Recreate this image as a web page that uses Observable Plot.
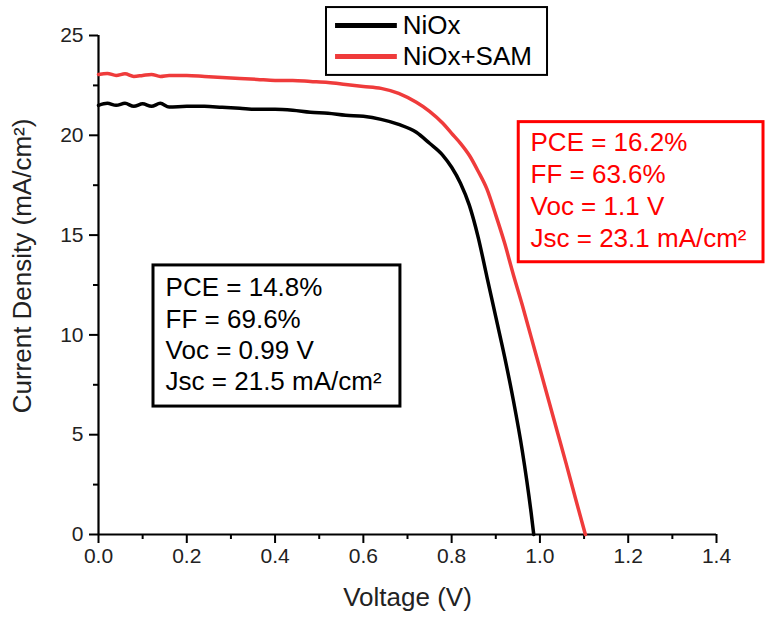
<!DOCTYPE html>
<html><head><meta charset="utf-8">
<script src="https://cdn.jsdelivr.net/npm/d3@7"></script>
<script src="https://cdn.jsdelivr.net/npm/@observablehq/plot@0.6"></script>
<style>body{margin:0;background:#fff}svg{font-family:"Liberation Sans",Arial,sans-serif}</style>
</head><body><div id="chart"></div>
<script>
// ---- data ----
const voltageNiOx = [0, 0.02, 0.04, 0.06, 0.08, 0.10, 0.12, 0.14, 0.16, 0.20, 0.24, 0.28, 0.32, 0.36, 0.40, 0.44, 0.48, 0.52, 0.56, 0.60, 0.64, 0.68, 0.72, 0.75, 0.78, 0.80, 0.82, 0.84, 0.86, 0.88, 0.90, 0.92, 0.94, 0.96, 0.98, 0.986];
const currentNiOx = [21.5, 21.6, 21.5, 21.6, 21.45, 21.58, 21.45, 21.6, 21.42, 21.45, 21.45, 21.4, 21.35, 21.3, 21.3, 21.25, 21.15, 21.1, 21.0, 20.95, 20.8, 20.55, 20.15, 19.6, 19.0, 18.4, 17.6, 16.5, 14.9, 12.9, 10.9, 8.9, 6.7, 4.2, 1.1, 0];
const voltageSAM = [0, 0.02, 0.04, 0.06, 0.08, 0.10, 0.12, 0.14, 0.16, 0.20, 0.24, 0.28, 0.32, 0.36, 0.40, 0.44, 0.48, 0.52, 0.56, 0.60, 0.64, 0.68, 0.72, 0.75, 0.78, 0.80, 0.82, 0.84, 0.86, 0.88, 0.90, 0.92, 0.94, 0.96, 0.98, 1.00, 1.02, 1.04, 1.06, 1.08, 1.103];
const currentSAM = [23.05, 23.1, 23.0, 23.08, 22.95, 23.0, 23.05, 22.95, 23.0, 23.0, 22.95, 22.9, 22.85, 22.8, 22.75, 22.75, 22.7, 22.65, 22.55, 22.45, 22.35, 22.1, 21.65, 21.2, 20.6, 20.1, 19.6, 19.0, 18.2, 17.3, 16.0, 14.6, 13.0, 11.5, 9.9, 8.3, 6.7, 5.1, 3.5, 1.85, 0];
const seriesNames = ["NiOx", "NiOx+SAM"];
const seriesColors = ["#000000", "#ef3b3b"];
const xMajorTicks = [0, 0.2, 0.4, 0.6, 0.8, 1.0, 1.2, 1.4];
const xMinorTicks = [0.1, 0.3, 0.5, 0.7, 0.9, 1.1, 1.3];
const yMajorTicks = [0, 5, 10, 15, 20, 25];
const yMinorTicks = [2.5, 7.5, 12.5, 17.5, 22.5];
const statsNiOx = ["PCE = 14.8%", "FF = 69.6%", "Voc = 0.99 V", "Jsc = 21.5 mA/cm²"];
const statsSAM = ["PCE = 16.2%", "FF = 63.6%", "Voc = 1.1 V", "Jsc = 23.1 mA/cm²"];
const xTitle = "Voltage (V)";
const yTitle = "Current Density (mA/cm²)";

// ---- build tidy table ----
const rows = [
  ...voltageNiOx.map((v, i) => ({V: v, J: currentNiOx[i], s: seriesNames[0]})),
  ...voltageSAM.map((v, i) => ({V: v, J: currentSAM[i], s: seriesNames[1]}))
];
const legendRows = seriesNames.map((name, i) => ({name, color: seriesColors[i], i}));

// annotation layout (data units)
const legendBox = {x1: 0.5165, x2: 1.0172, y1: 23.0, y2: 26.40};
const legendLine = {x1: 0.537, x2: 0.677, xText: 0.689, y0: 25.5, step: -1.55};
const boxNiOx = {x1: 0.1246, x2: 0.684, y1: 6.41, y2: 13.48, xText: 0.152, yText: 13.04};
const boxSAM = {x1: 0.952, x2: 1.5065, y1: 13.64, y2: 20.66, xText: 0.9787, yText: 20.32};

const chart = Plot.plot({
  width: 765, height: 617,
  marginLeft: 98, marginRight: 49, marginTop: 35, marginBottom: 83,
  x: {domain: [0, 1.4]},
  y: {domain: [0, 25]},
  style: {fontFamily: '"Liberation Sans", Arial, sans-serif', background: "#fff", overflow: "visible"},
  marks: [
    // axes
    Plot.axisX({ticks: xMajorTicks, tickSize: 9, tickPadding: 5, tickFormat: d3.format(".1f"), fontSize: 21, fill: "#222", strokeWidth: 2, label: null}),
    Plot.axisX({ticks: xMinorTicks, tickSize: 5, tickFormat: () => "", strokeWidth: 2, label: null}),
    Plot.axisY({ticks: yMajorTicks, tickSize: 9, tickPadding: 6, fontSize: 21, fill: "#222", strokeWidth: 2, label: null}),
    Plot.axisY({ticks: yMinorTicks, tickSize: 5, tickFormat: () => "", strokeWidth: 2, label: null}),
    Plot.ruleY([0], {strokeWidth: 2.2, stroke: "#000"}),
    Plot.ruleX([0], {strokeWidth: 2.2, stroke: "#000"}),
    // curves
    Plot.line(rows, {x: "V", y: "J", z: "s", stroke: d => seriesColors[seriesNames.indexOf(d.s)], strokeWidth: 3.5, curve: "monotone-x"}),
    // axis titles
    Plot.text([xTitle], {text: d => d, frameAnchor: "bottom", lineAnchor: "middle", dy: 63, fontSize: 26, fill: "#222"}),
    Plot.text([yTitle], {text: d => d, frameAnchor: "left", textAnchor: "middle", lineAnchor: "middle", dx: -76, dy: -19, rotate: -90, fontSize: 26, fill: "#222"}),
    // legend
    Plot.rect([legendBox], {x1: "x1", x2: "x2", y1: "y1", y2: "y2", fill: "#fff", stroke: "#000", strokeWidth: 2}),
    Plot.ruleY(legendRows, {x1: legendLine.x1, x2: legendLine.x2, y: d => legendLine.y0 + d.i * legendLine.step, stroke: "color", strokeWidth: 5}),
    Plot.text(legendRows, {x: legendLine.xText, y: d => legendLine.y0 + d.i * legendLine.step, text: "name", textAnchor: "start", fontSize: 26, fill: "#000"}),
    // stats boxes
    Plot.rect([boxNiOx], {x1: "x1", x2: "x2", y1: "y1", y2: "y2", fill: "none", stroke: "#000", strokeWidth: 3}),
    Plot.text([statsNiOx.join("\n")], {x: boxNiOx.xText, y: boxNiOx.yText, text: d => d, textAnchor: "start", lineAnchor: "top", lineHeight: 1.2, fontSize: 26, fill: "#000"}),
    Plot.rect([boxSAM], {x1: "x1", x2: "x2", y1: "y1", y2: "y2", fill: "#fff", stroke: "#ff0000", strokeWidth: 3}),
    Plot.text([statsSAM.join("\n")], {x: boxSAM.xText, y: boxSAM.yText, text: d => d, textAnchor: "start", lineAnchor: "top", lineHeight: 1.22, fontSize: 26, fill: "#ff0000"})
  ]
});
document.getElementById("chart").append(chart);
</script>
</body></html>
